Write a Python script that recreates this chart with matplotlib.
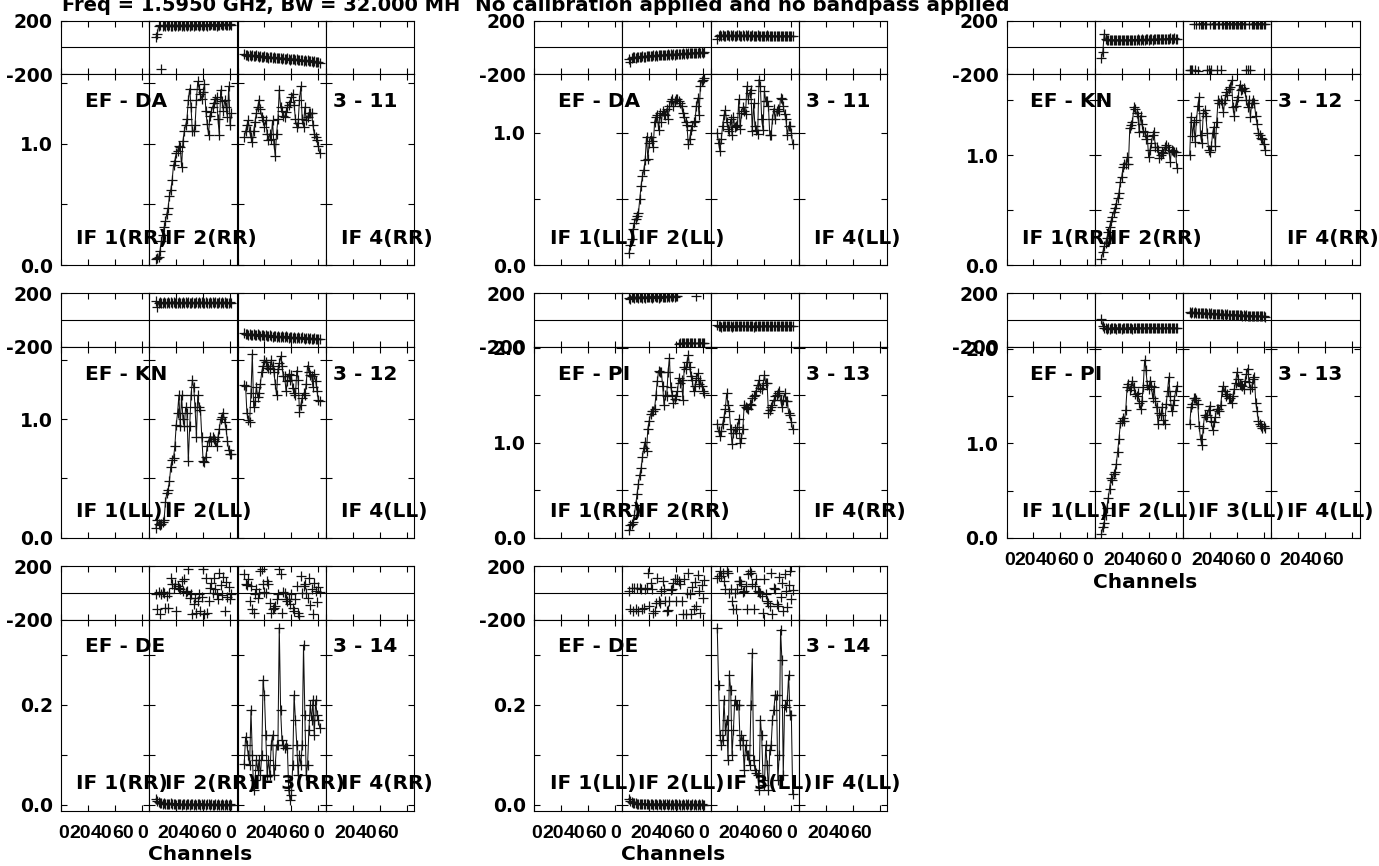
#!/usr/bin/env python3
"""Cross-power spectra (amplitude + phase) per baseline and IF, POSSM style."""

import matplotlib

matplotlib.use("Agg")
import matplotlib.pyplot as plt
import numpy as np
from matplotlib import transforms
from matplotlib.font_manager import FontProperties
from matplotlib.ticker import FuncFormatter, MultipleLocator

# channels that carry data in every IF (64-channel IFs, edges flagged)
CHANNELS = list(range(5, 62))
XTICKS = [0, 20, 40, 60]

TITLE_LEFT = "Freq = 1.5950 GHz, Bw = 32.000 MH"
TITLE_RIGHT = "No calibration applied and no bandpass applied"

# ---------------- EF - DA (3 - 11) ----------------
amp_da_rr_if2 = [
    0.05, 0.06, 0.07, 0.12, 0.20, 0.25, 0.31, 0.36, 0.42, 0.47,
    0.57, 0.62, 0.70, 0.82, 0.86, 0.92, 0.94, 0.98, 0.97, 0.81,
    1.02, 1.10, 1.15, 1.20, 1.36, 1.45, 1.30, 1.10, 1.10, 1.15,
    1.36, 1.51, 1.45, 1.41, 1.37, 1.42, 1.49, 1.27, 1.16, 1.07,
    1.23, 1.26, 1.30, 1.33, 1.37, 1.38, 1.20, 1.07, 1.44, 1.35,
    1.27, 1.36, 1.30, 1.22, 1.47, 1.15, 1.25]
amp_da_rr_if3 = [
    1.05, 1.10, 1.15, 1.19, 1.10, 1.05, 1.01, 1.10, 1.18, 1.25,
    1.30, 1.36, 1.28, 1.22, 1.19, 1.14, 1.19, 1.08, 1.03, 1.08,
    1.04, 1.19, 1.00, 0.90, 1.08, 1.20, 1.44, 1.30, 1.27, 1.23,
    1.22, 1.26, 1.30, 1.32, 1.34, 1.38, 1.41, 1.32, 1.20, 1.14,
    1.17, 1.36, 1.47, 1.20, 1.14, 1.30, 1.19, 1.22, 1.25, 1.25,
    1.25, 1.15, 1.08, 1.05, 1.03, 0.98, 0.92]
ph_da_rr_if2 = [
    78, 104, 163, 167, -158, 161, 166, 159, 168, 163,
    170, 164, 160, 167, 163, 169, 161, 165, 170, 163,
    167, 160, 168, 164, 170, 162, 166, 169, 163, 171,
    165, 168, 162, 170, 166, 164, 171, 167, 163, 170,
    166, 172, 165, 169, 171, 164, 170, 167, 172, 166,
    170, 173, 167, 171, 168, 172, 170]
ph_da_rr_if3 = [
    -47, -58, -54, -61, -56, -63, -59, -62, -66, -60,
    -65, -70, -64, -69, -73, -67, -72, -70, -76, -71,
    -74, -79, -73, -78, -82, -76, -81, -79, -85, -80,
    -84, -88, -82, -87, -91, -86, -90, -88, -94, -89,
    -93, -97, -91, -96, -100, -95, -99, -97, -103, -99,
    -104, -107, -102, -108, -111, -109, -116]

amp_da_ll_if2 = [
    0.09, 0.15, 0.20, 0.27, 0.32, 0.35, 0.37, 0.39, 0.50, 0.60,
    0.67, 0.72, 0.79, 0.97, 0.80, 0.92, 0.97, 0.94, 0.89, 1.08,
    1.12, 1.13, 1.02, 1.15, 1.08, 1.16, 1.14, 1.13, 1.18, 1.10,
    1.20, 1.24, 1.25, 1.20, 1.24, 1.25, 1.25, 1.24, 1.22, 1.20,
    1.15, 1.12, 1.08, 1.06, 0.91, 0.95, 1.02, 1.05, 1.08, 1.09,
    1.20, 1.26, 1.13, 1.35, 1.39, 1.40, 1.41]
amp_da_ll_if3 = [
    1.00, 0.92, 0.86, 0.95, 1.05, 1.13, 1.17, 1.08, 1.03, 1.01,
    1.10, 0.98, 1.12, 1.04, 1.05, 1.06, 1.25, 1.03, 1.15, 1.19,
    1.16, 1.14, 1.35, 1.25, 1.30, 1.32, 1.01, 1.22, 1.05, 1.02,
    0.99, 1.40, 1.35, 1.10, 1.02, 1.31, 1.24, 1.24, 1.20, 0.98,
    0.98, 1.10, 1.18, 1.10, 1.16, 1.18, 1.16, 1.26, 1.25, 1.20,
    1.14, 1.10, 0.98, 1.05, 1.05, 1.00, 0.91]
ph_da_ll_if2 = [
    -84, -106, -77, -75, -72, -76, -70, -73, -68, -71,
    -66, -69, -70, -64, -67, -61, -65, -62, -60, -63,
    -58, -61, -57, -60, -55, -59, -56, -53, -57, -52,
    -55, -51, -54, -49, -53, -50, -47, -51, -46, -49,
    -45, -48, -44, -46, -42, -45, -41, -44, -40, -43,
    -39, -41, -37, -40, -36, -38, -35]
ph_da_ll_if3 = [
    66, 85, 90, 87, 93, 89, 86, 91, 94, 88,
    90, 86, 92, 89, 87, 93, 90, 88, 85, 91,
    89, 92, 87, 90, 86, 88, 91, 85, 89, 87,
    90, 84, 88, 86, 89, 85, 87, 90, 84, 88,
    86, 89, 85, 87, 83, 88, 86, 84, 87, 85,
    88, 83, 86, 84, 87, 85, 84]

# ---------------- EF - KN (3 - 12) ----------------
amp_kn_rr_if2 = [
    0.06, 0.12, 0.17, 0.20, 0.25, 0.30, 0.35, 0.40, 0.44, 0.48,
    0.52, 0.56, 0.61, 0.66, 0.76, 0.80, 0.89, 0.92, 0.92, 0.98,
    0.92, 1.25, 1.27, 1.30, 1.44, 1.42, 1.38, 1.36, 1.21, 1.36,
    1.28, 1.22, 1.21, 1.15, 1.17, 0.98, 1.05, 1.11, 1.18, 1.21,
    1.07, 1.07, 1.05, 0.97, 1.00, 1.03, 1.02, 1.07, 1.09, 1.07,
    1.05, 0.94, 1.05, 1.04, 1.03, 1.03, 0.88]
amp_kn_rr_if3 = [
    1.00, 1.35, 1.17, 1.30, 1.12, 1.32, 1.45, 1.53, 1.18, 1.11,
    1.38, 1.41, 1.36, 1.20, 1.05, 1.03, 1.08, 1.20, 1.26, 1.08,
    1.30, 1.50, 1.47, 1.50, 1.47, 1.39, 1.50, 1.57, 1.55, 1.60,
    1.62, 1.68, 1.44, 1.36, 1.45, 1.50, 1.53, 1.64, 1.59, 1.60,
    1.61, 1.58, 1.50, 1.44, 1.50, 1.35, 1.47, 1.50, 1.47, 1.36,
    1.28, 1.20, 1.18, 1.16, 1.15, 1.10, 1.05]
ph_kn_rr_if2 = [
    -80, -32, 100, 60, 55, 58, 54, 57, 52, 56,
    58, 53, 57, 55, 59, 54, 56, 52, 57, 55,
    53, 58, 56, 54, 59, 57, 55, 60, 58, 56,
    61, 59, 57, 62, 60, 58, 63, 61, 59, 64,
    62, 60, 65, 63, 61, 66, 64, 62, 66, 65,
    63, 67, 65, 64, 68, 66, 65]
ph_kn_rr_if3 = [
    -171, -168, -172, 177, -170, 178, -173, 176, 179, 177,
    178, 176, 179, -172, -169, 177, -171, 178, 176, 179,
    -170, 177, 178, -172, 176, 179, 177, 178, 176, 179,
    177, 176, 178, 179, 177, 176, 178, 177, 179, 176,
    178, 177, -171, -169, 178, -172, 176, 177, 179, 178,
    176, 177, 178, 176, 175, 177, 176]

amp_kn_ll_if2 = [
    0.08, 0.15, 0.12, 0.11, 0.12, 0.13, 0.15, 0.30, 0.38, 0.40,
    0.48, 0.60, 0.66, 0.67, 0.77, 0.95, 1.05, 1.20, 0.94, 1.20,
    1.00, 0.94, 1.10, 1.05, 0.65, 0.94, 1.20, 1.33, 1.27, 1.10,
    0.85, 1.20, 1.10, 1.08, 0.85, 0.65, 0.64, 0.68, 0.77, 0.82,
    0.85, 0.82, 0.85, 0.83, 0.82, 0.77, 0.85, 0.92, 1.00, 1.02,
    1.05, 0.98, 0.92, 0.82, 0.74, 0.71, 0.71]
amp_kn_ll_if3 = [
    1.29, 1.28, 1.05, 0.99, 0.98, 1.22, 1.55, 1.10, 1.15, 1.27,
    1.19, 1.22, 1.30, 1.40, 1.45, 1.50, 1.48, 1.45, 1.43, 1.42,
    1.50, 1.45, 1.40, 1.30, 1.20, 1.42, 1.47, 1.53, 1.45, 1.36,
    1.36, 1.24, 1.32, 1.38, 1.33, 1.37, 1.26, 1.22, 1.20, 1.41,
    1.33, 1.06, 1.12, 1.18, 1.22, 1.20, 1.30, 1.45, 1.40, 1.37,
    1.36, 1.27, 1.38, 1.32, 1.24, 1.16, 1.15]
ph_kn_ll_if2 = [
    140, 95, 128, 133, 126, 131, 135, 127, 130, 134,
    125, 132, 129, 136, 128, 131, 126, 133, 130, 127,
    135, 129, 132, 126, 134, 130, 128, 133, 127, 131,
    136, 129, 132, 128, 134, 130, 127, 133, 131, 129,
    135, 128, 132, 130, 134, 127, 131, 133, 129, 132,
    128, 134, 130, 131, 129, 133, 131]
ph_kn_ll_if3 = [
    -96, -108, -103, -111, -106, -109, -113, -106, -112, -114,
    -108, -113, -117, -110, -115, -119, -112, -118, -120, -114,
    -119, -123, -116, -121, -125, -118, -124, -126, -120, -125,
    -129, -122, -127, -131, -124, -129, -133, -126, -131, -134,
    -128, -133, -137, -130, -135, -138, -132, -137, -140, -134,
    -139, -142, -136, -141, -144, -138, -143]

# ---------------- EF - PI (3 - 13) ----------------
amp_pi_rr_if2 = [
    0.08, 0.13, 0.15, 0.17, 0.24, 0.35, 0.46, 0.57, 0.66, 0.73,
    0.85, 0.95, 1.01, 0.91, 1.15, 1.23, 1.30, 1.33, 1.33, 1.36,
    1.50, 1.65, 1.76, 1.75, 1.74, 1.60, 1.40, 1.50, 1.49, 1.75,
    1.89, 1.59, 1.50, 1.42, 1.46, 1.49, 1.55, 1.68, 1.63, 1.66,
    1.45, 1.80, 1.78, 1.85, 1.92, 1.80, 1.70, 1.66, 1.54, 1.60,
    1.68, 1.73, 1.62, 1.66, 1.60, 1.55, 1.52]
amp_pi_rr_if3 = [
    1.20, 1.12, 1.07, 1.12, 1.20, 1.27, 1.36, 1.52, 1.40, 1.33,
    1.14, 0.99, 1.10, 1.14, 1.10, 1.17, 1.25, 1.00, 1.05, 1.14,
    1.40, 1.38, 1.37, 1.36, 1.41, 1.40, 1.47, 1.49, 1.50, 1.55,
    1.61, 1.66, 1.58, 1.57, 1.61, 1.71, 1.63, 1.63, 1.31, 1.35,
    1.38, 1.40, 1.45, 1.49, 1.50, 1.52, 1.54, 1.45, 1.38, 1.45,
    1.52, 1.44, 1.44, 1.31, 1.29, 1.22, 1.14]
ph_pi_rr_if2 = [
    168, 158, 175, 171, 164, 170, 174, 167, 171, 176,
    168, 173, 166, 172, 175, 169, 174, 167, 173, 177,
    170, 175, 168, 174, 177, 171, 176, 169, 175, 178,
    172, 177, 173, 178, 175, 179, 177, -176, -173, -175,
    -172, -174, -171, -173, -175, -172, -174, -171, -173, -172,
    177, -174, -171, -173, -170, -172, -171]
ph_pi_rr_if3 = [
    -40, -47, -44, -49, -45, -42, -48, -46, -43, -47,
    -44, -49, -45, -46, -43, -48, -44, -47, -45, -42,
    -46, -48, -44, -45, -47, -43, -46, -49, -44, -45,
    -47, -43, -46, -48, -44, -45, -42, -47, -45, -46,
    -44, -48, -43, -46, -45, -47, -44, -46, -43, -45,
    -47, -44, -46, -45, -43, -46, -44]

amp_pi_ll_if2 = [
    0.04, 0.11, 0.16, 0.24, 0.32, 0.42, 0.52, 0.63, 0.61, 0.68,
    0.70, 0.78, 0.91, 1.05, 1.21, 1.24, 1.27, 1.23, 1.35, 1.59,
    1.63, 1.56, 1.60, 1.66, 1.59, 1.52, 1.50, 1.53, 1.43, 1.36,
    1.45, 1.60, 1.88, 1.77, 1.62, 1.57, 1.66, 1.61, 1.48, 1.59,
    1.45, 1.38, 1.20, 1.32, 1.30, 1.38, 1.25, 1.20, 1.41, 1.55,
    1.70, 1.50, 1.34, 1.40, 1.46, 1.55, 1.61]
amp_pi_ll_if3 = [
    1.20, 1.38, 1.42, 1.48, 1.48, 1.46, 1.41, 1.18, 1.05, 0.98,
    1.16, 1.30, 1.28, 1.30, 1.35, 1.39, 1.23, 1.14, 1.22, 1.28,
    1.36, 1.36, 1.34, 1.40, 1.55, 1.61, 1.55, 1.50, 1.52, 1.48,
    1.48, 1.43, 1.50, 1.57, 1.64, 1.75, 1.68, 1.63, 1.62, 1.61,
    1.57, 1.66, 1.73, 1.79, 1.65, 1.57, 1.59, 1.68, 1.70, 1.43,
    1.34, 1.23, 1.20, 1.18, 1.16, 1.18, 1.16]
ph_pi_ll_if2 = [
    5, -45, -62, -58, -64, -60, -66, -59, -63, -57,
    -61, -65, -58, -62, -60, -64, -57, -61, -63, -59,
    -62, -56, -60, -64, -58, -61, -59, -63, -57, -60,
    -62, -58, -61, -59, -63, -57, -60, -62, -58, -61,
    -59, -62, -57, -60, -63, -58, -61, -59, -62, -58,
    -60, -61, -59, -62, -58, -60, -61]
ph_pi_ll_if3 = [
    60, 55, 62, 54, 57, 52, 56, 53, 50, 54,
    51, 49, 53, 48, 50, 46, 49, 45, 47, 44,
    46, 43, 45, 42, 44, 41, 43, 40, 42, 39,
    41, 38, 40, 37, 39, 36, 38, 35, 37, 34,
    36, 33, 35, 32, 34, 31, 33, 30, 32, 29,
    31, 28, 30, 27, 29, 28, 26]

# ---------------- EF - DE (3 - 14) ----------------
amp_de_rr_if2 = [
    0.012, 0.008, 0.006, 0.004, 0.005, 0.003, 0.004, 0.002, 0.003, 0.003,
    0.002, 0.004, 0.002, 0.003, 0.002, 0.001, 0.003, 0.002, 0.002, 0.001,
    0.002, 0.003, 0.001, 0.002, 0.002, 0.001, 0.002, 0.003, 0.001, 0.002,
    0.001, 0.002, 0.002, 0.001, 0.003, 0.001, 0.002, 0.001, 0.002, 0.002,
    0.001, 0.002, 0.001, 0.001, 0.002, 0.001, 0.002, 0.001, 0.001, 0.002,
    0.001, 0.001, 0.002, 0.001, 0.001, 0.002, 0.001]
amp_de_rr_if3 = [
    0.083, 0.136, 0.12, 0.10, 0.08, 0.19, 0.10, 0.03, 0.05, 0.09,
    0.07, 0.09, 0.06, 0.10, 0.25, 0.22, 0.14, 0.06, 0.09, 0.06,
    0.12, 0.14, 0.06, 0.08, 0.12, 0.12, 0.355, 0.19, 0.13, 0.12,
    0.115, 0.12, 0.115, 0.03, 0.01, 0.02, 0.08, 0.22, 0.17, 0.12,
    0.06, 0.10, 0.08, 0.12, 0.32, 0.18, 0.06, 0.08, 0.15, 0.20,
    0.17, 0.21, 0.14, 0.21, 0.18, 0.17, 0.155]
ph_de_rr_if2 = [
    -12, -125, 5, -162, -12, 5, 0, -112, -25, -112,
    0, 112, 62, 37, 62, -137, 50, 37, 25, 87,
    12, 100, 5, 10, 178, -37, -12, -162, -87, -37,
    -150, -62, -12, -137, -30, 178, -162, 112, -150, -62,
    37, 75, 0, 112, 25, -10, -50, 150, 60, -20,
    120, -140, 80, -30, 40, -50, -10]
ph_de_rr_if3 = [
    137, 62, 55, 100, -62, 50, -125, -150, -12, 25,
    -37, 0, 162, 175, 62, 5, -5, 87, 62, -75,
    -150, -125, -112, -100, -50, -12, 175, 137, -150, 5,
    -5, -50, -62, -45, -87, -12, -112, -137, -50, 50,
    -150, -175, 125, 0, 50, 62, 0, -40, 110, -95,
    30, -160, 70, 15, -70, 45, 5]

amp_de_ll_if2 = [
    0.013, 0.009, 0.007, 0.005, 0.004, 0.004, 0.003, 0.003, 0.002, 0.003,
    0.002, 0.003, 0.002, 0.002, 0.003, 0.001, 0.002, 0.002, 0.001, 0.002,
    0.003, 0.001, 0.002, 0.002, 0.001, 0.002, 0.001, 0.002, 0.003, 0.001,
    0.002, 0.001, 0.002, 0.001, 0.002, 0.002, 0.001, 0.002, 0.001, 0.001,
    0.002, 0.001, 0.002, 0.001, 0.002, 0.001, 0.001, 0.002, 0.001, 0.002,
    0.001, 0.001, 0.002, 0.001, 0.002, 0.001, 0.001]
amp_de_ll_if3 = [
    0.355, 0.24, 0.14, 0.12, 0.13, 0.21, 0.15, 0.17, 0.09, 0.26,
    0.23, 0.10, 0.15, 0.21, 0.20, 0.20, 0.20, 0.12, 0.14, 0.13,
    0.07, 0.12, 0.10, 0.10, 0.08, 0.20, 0.304, 0.09, 0.07, 0.065,
    0.06, 0.03, 0.17, 0.14, 0.05, 0.04, 0.12, 0.08, 0.03, 0.11,
    0.12, 0.17, 0.19, 0.22, 0.22, 0.05, 0.10, 0.351, 0.29, 0.06,
    0.20, 0.197, 0.21, 0.26, 0.18, 0.18, 0.022]
ph_de_ll_if2 = [
    12, -125, 37, -137, 37, -125, 37, -137, 37, 25,
    -125, -112, 25, 37, 150, -100, 75, 30, -150, -140,
    -75, 112, -62, -75, 12, 87, 25, -60, -137, -130,
    -60, 20, 25, 75, 100, -62, 100, 87, 62, -62,
    -162, 100, -162, 0, 150, -12, -162, 45, -120, 80,
    -100, 130, 10, -150, 60, -40, 95]
ph_de_ll_if3 = [
    112, 125, 162, 125, 150, 87, 25, 162, 150, 0,
    25, -62, -125, 0, -125, 25, 87, 87, 62, 5,
    15, 50, -125, 137, 162, 150, 62, -125, 50, 100,
    12, 5, -5, -25, -150, 100, -12, -62, -75, -100,
    150, -162, 37, 25, -87, -100, 120, -30, 70, -140,
    140, 10, -110, 60, 160, -50, 20]

# panel table: (row, col, baseline, antennas, pol, amp IF2, amp IF3, phase IF2, phase IF3,
#               amp lower, amp upper, IFs that carry a label, join phase points)
PANELS = [
    (0, 0, "EF - DA", "3 - 11", "RR", amp_da_rr_if2, amp_da_rr_if3, ph_da_rr_if2, ph_da_rr_if3, 0.0, 1.57, [1, 2, 4], True),
    (0, 1, "EF - DA", "3 - 11", "LL", amp_da_ll_if2, amp_da_ll_if3, ph_da_ll_if2, ph_da_ll_if3, 0.0, 1.44, [1, 2, 4], True),
    (0, 2, "EF - KN", "3 - 12", "RR", amp_kn_rr_if2, amp_kn_rr_if3, ph_kn_rr_if2, ph_kn_rr_if3, 0.0, 1.736, [1, 2, 4], True),
    (1, 0, "EF - KN", "3 - 12", "LL", amp_kn_ll_if2, amp_kn_ll_if3, ph_kn_ll_if2, ph_kn_ll_if3, 0.0, 1.61, [1, 2, 4], True),
    (1, 1, "EF - PI", "3 - 13", "RR", amp_pi_rr_if2, amp_pi_rr_if3, ph_pi_rr_if2, ph_pi_rr_if3, 0.0, 2.01, [1, 2, 4], True),
    (1, 2, "EF - PI", "3 - 13", "LL", amp_pi_ll_if2, amp_pi_ll_if3, ph_pi_ll_if2, ph_pi_ll_if3, 0.0, 2.02, [1, 2, 3, 4], True),
    (2, 0, "EF - DE", "3 - 14", "RR", amp_de_rr_if2, amp_de_rr_if3, ph_de_rr_if2, ph_de_rr_if3, -0.011, 0.371, [1, 2, 3, 4], False),
    (2, 1, "EF - DE", "3 - 14", "LL", amp_de_ll_if2, amp_de_ll_if3, ph_de_ll_if2, ph_de_ll_if3, -0.011, 0.371, [1, 2, 3, 4], False),
]
BOTTOM_PANELS = {(2, 0), (2, 1), (1, 2)}

# layout in pixels
FIG_W, FIG_H = 1379, 866
COL_LEFT = [61.0, 534.0, 1006.5]
ROW_TOP = [20.7, 293.3, 566.0]
COL_W = 353.0
IF_W = COL_W / 4
PHASE_H = 53.5
AMP_H = 191.0
XMAX = 65.5
# shift (px) of the crowded channel labels relative to their ticks
XLABEL_DX = {0: -7, 20: -8, 40: -13.5, 60: -19}
FIRST_ZERO_DX = 3

INK = "#111111"
CHAN_FONT = FontProperties(family="Liberation Sans", weight="bold", size=14)


def fx(px):
    return px / FIG_W


def fy(py):
    return 1 - py / FIG_H


def wrap_breaks(ch, ph):
    """Insert gaps where the phase wraps so no line crosses the panel."""
    ch = np.asarray(ch, dtype=float)
    ph = np.asarray(ph, dtype=float)
    cut = np.where(np.abs(np.diff(ph)) > 180)[0] + 1
    return np.insert(ch, cut, np.nan), np.insert(ph, cut, np.nan)


def amp_formatter(label_step):
    def fmt(v, _):
        k = v / label_step
        if abs(k - round(k)) < 1e-6:
            return "0.0" if abs(v) < 1e-9 else f"{v:.1f}"
        return ""
    return FuncFormatter(fmt)


def main():
    plt.rcParams["font.family"] = ["DejaVu Sans"]
    plt.rcParams["font.weight"] = "bold"

    fig = plt.figure(figsize=(FIG_W / 100, FIG_H / 100), dpi=100)
    fig.patch.set_facecolor("white")

    def add_axes(left, top, w, h):
        return fig.add_axes([fx(left), fy(top + h), w / FIG_W, h / FIG_H])

    for (row, col, base, pair, pol, a2, a3, p2, p3, lo, hi, shown, join) in PANELS:
        left = COL_LEFT[col]
        top = ROW_TOP[row]
        amp_top = top + PHASE_H
        amp_bot = amp_top + AMP_H
        small = hi < 1
        data = {1: (a2, p2), 2: (a3, p3)}

        for k in range(4):
            axp = add_axes(left + k * IF_W, top, IF_W, PHASE_H)
            axa = add_axes(left + k * IF_W, amp_top, IF_W, AMP_H)
            for ax in (axp, axa):
                ax.set_xlim(0, XMAX)
                ax.set_xticks(XTICKS)
                ax.tick_params(direction="in", top=True, right=True, length=4, width=0.8,
                               labelsize=13.5, pad=5.8, labelbottom=False, labelleft=(k == 0))
                for s in ax.spines.values():
                    s.set_linewidth(0.8)

            # phase strip
            axp.set_ylim(-200, 200)
            axp.set_yticks([-200, 200])
            axp.set_yticklabels(["-200", "200"])
            axp.axhline(0, color="k", lw=0.8)

            # amplitude panel
            axa.set_ylim(lo, hi)
            axa.yaxis.set_major_locator(MultipleLocator(0.1 if small else 0.5))
            axa.yaxis.set_major_formatter(amp_formatter(0.2 if small else 1.0))

            if k in data:
                amp, ph = data[k]
                axa.plot(CHANNELS, amp, color=INK, lw=0.75, marker="+", ms=7, mew=0.9)
                if join:
                    xs, ys = wrap_breaks(CHANNELS, ph)
                    axp.plot(xs, ys, color=INK, lw=0.75)
                axp.plot(CHANNELS, ph, ls="none", color=INK, marker="+", ms=7, mew=0.9)

            if (row, col) in BOTTOM_PANELS:
                for t in XTICKS:
                    dx = FIRST_ZERO_DX if (t == 0 and k == 0) else XLABEL_DX[t]
                    tr = transforms.blended_transform_factory(axa.transData, axa.transAxes) + \
                        transforms.ScaledTranslation(dx / 100, -27 / 100, fig.dpi_scale_trans)
                    axa.text(t, 0, str(t), transform=tr, ha="center", va="baseline",
                             fontproperties=CHAN_FONT, clip_on=False)

        # annotations
        fig.text(fx(left + 24), fy(amp_top + 33), base, ha="left", va="baseline", fontsize=14.5)
        fig.text(fx(left + 3 * IF_W + 7), fy(amp_top + 33), pair, ha="left", va="baseline", fontsize=14.5)
        for n in shown:
            fig.text(fx(left + (n - 1) * IF_W + 15.5), fy(amp_bot - 21), f"IF {n}({pol})",
                     ha="left", va="baseline", fontsize=14.5)
        if (row, col) in BOTTOM_PANELS:
            fig.text(fx(left + 139), fy(amp_bot + 50), "Channels", ha="center", va="baseline", fontsize=14.5)

    fig.text(fx(62), fy(11), TITLE_LEFT, ha="left", va="baseline", fontsize=14)
    fig.text(fx(475), fy(11), TITLE_RIGHT, ha="left", va="baseline", fontsize=14.3)

    fig.savefig("out.png", dpi=100)
    plt.close(fig)


if __name__ == "__main__":
    main()
